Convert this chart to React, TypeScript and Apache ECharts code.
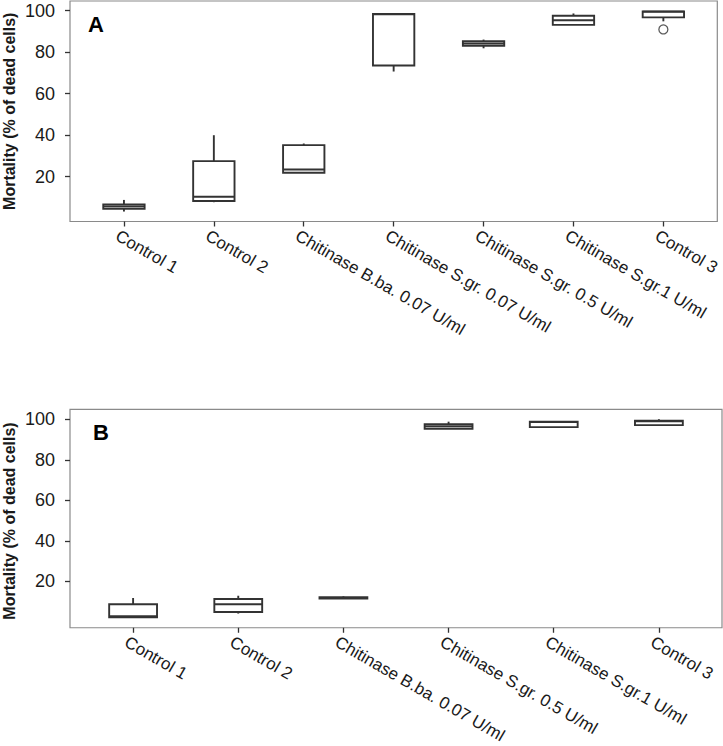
import React, { useEffect, useRef } from "react";
import * as echarts from "echarts";

// Panel A
const categoriesA = [
  "Control 1",
  "Control 2",
  "Chitinase B.ba. 0.07 U/ml",
  "Chitinase S.gr. 0.07 U/ml",
  "Chitinase S.gr. 0.5 U/ml",
  "Chitinase S.gr.1 U/ml",
  "Control 3",
];
// [whiskerLow, q1, median, q3, whiskerHigh]
const boxesA = [
  [3.2, 4.5, 5.6, 6.6, 8.8],
  [7.7, 8.3, 10.3, 27.5, 40.0],
  [21.9, 21.9, 23.5, 35.2, 36.0],
  [70.7, 73.6, 98.3, 98.4, 98.7],
  [81.9, 83.1, 84.2, 85.3, 86.1],
  [93.2, 93.2, 95.4, 97.6, 98.7],
  [94.9, 96.8, 99.5, 99.7, 99.9],
];
const outliersA = [[7, 91.0]];

// Panel B
const categoriesB = [
  "Control 1",
  "Control 2",
  "Chitinase B.ba. 0.07 U/ml",
  "Chitinase S.gr. 0.5 U/ml",
  "Chitinase S.gr.1 U/ml",
  "Control 3",
];
const boxesB = [
  [2.2, 2.2, 2.8, 8.7, 11.8],
  [4.1, 4.9, 8.7, 11.3, 12.9],
  [11.4, 11.5, 11.8, 12.2, 12.6],
  [95.3, 95.3, 96.5, 97.6, 98.8],
  [95.8, 96.1, 98.6, 98.8, 98.9],
  [97.1, 97.1, 99.0, 99.3, 100.0],
];

const yTicks = [20, 40, 60, 80, 100];
const yTitle = "Mortality (% of dead cells)";

const FONT = "'Liberation Sans', Arial, Helvetica, sans-serif";
const STROKE = "#333333";
const LW = 1.9;
const GRID_W = 652;
const GRID_A = { top: 1, height: 220.5 };
const GRID_B = { top: 409.3, height: 223.4 };

function boxRender(boxFrac: number) {
  return (params: any, api: any) => {
    const x = api.value(0);
    const pLow = api.coord([x, api.value(1)]);
    const pQ1 = api.coord([x, api.value(2)]);
    const pMed = api.coord([x, api.value(3)]);
    const pQ3 = api.coord([x, api.value(4)]);
    const pHigh = api.coord([x, api.value(5)]);
    const w = api.size([boxFrac, 0])[0];
    const cx = pQ1[0];
    const ls = { stroke: STROKE, lineWidth: LW, fill: null };
    return {
      type: "group",
      children: [
        { type: "line", shape: { x1: cx, y1: pHigh[1], x2: cx, y2: pQ3[1] }, style: ls },
        { type: "line", shape: { x1: cx, y1: pQ1[1], x2: cx, y2: pLow[1] }, style: ls },
        {
          type: "rect",
          shape: { x: cx - w / 2, y: pQ3[1], width: w, height: pQ1[1] - pQ3[1] },
          style: { fill: "#ffffff", stroke: STROKE, lineWidth: LW },
        },
        { type: "line", shape: { x1: cx - w / 2, y1: pMed[1], x2: cx + w / 2, y2: pMed[1] }, style: ls },
      ],
    };
  };
}

function xAxis(idx: number, cats: string[]) {
  const vals = cats.map((_, i) => i + 1);
  const pxPerUnit = GRID_W / (cats.length + 0.2);
  const shift = 7 / pxPerUnit;
  return {
    type: "value",
    gridIndex: idx,
    min: 0.4,
    max: cats.length + 0.6,
    axisLine: { show: false, onZero: false },
    splitLine: { show: false },
    axisTick: { show: true, customValues: vals, length: 5, lineStyle: { color: STROKE, width: 1.3 } },
    axisLabel: {
      show: true,
      customValues: vals.map((v) => v - shift),
      formatter: (v: number) => cats[Math.round(v) - 1] ?? "",
      rotate: -30,
      margin: 13,
      fontSize: 17,
      fontFamily: FONT,
      color: "#1a1a1a",
    },
  };
}

function yAxis(idx: number, min: number, max: number) {
  return {
    type: "value",
    gridIndex: idx,
    min,
    max,
    axisLine: { show: false, onZero: false },
    splitLine: { show: false },
    axisTick: { show: true, customValues: yTicks, length: 5, lineStyle: { color: STROKE, width: 1.3 } },
    axisLabel: {
      show: true,
      customValues: yTicks,
      margin: 15,
      fontSize: 18,
      fontFamily: FONT,
      color: "#1a1a1a",
    },
  };
}

function yTitleText(centerY: number) {
  return {
    type: "text",
    x: 9.5,
    y: centerY,
    rotation: Math.PI / 2,
    style: {
      text: yTitle,
      fontSize: 16,
      fontWeight: "bold",
      fontFamily: FONT,
      fill: "#1a1a1a",
      align: "center",
      verticalAlign: "middle",
    },
  };
}

export default function App() {
  const ref = useRef<HTMLDivElement>(null);
  useEffect(() => {
    if (!ref.current) return;
    const chart = echarts.init(ref.current, null, { renderer: "svg" });
    const dataA = boxesA.map((b, i) => [i + 1, ...b]);
    const dataB = boxesB.map((b, i) => [i + 1, ...b]);
    chart.setOption({
      animation: false,
      backgroundColor: "#ffffff",
      grid: [
        { left: 70, top: GRID_A.top, width: GRID_W, height: GRID_A.height, show: true, borderColor: "#8a8a8a", borderWidth: 1.2, backgroundColor: "#ffffff" },
        { left: 70, top: GRID_B.top, width: GRID_W, height: GRID_B.height, show: true, borderColor: "#8a8a8a", borderWidth: 1.2, backgroundColor: "#ffffff" },
      ],
      xAxis: [xAxis(0, categoriesA), xAxis(1, categoriesB)],
      yAxis: [yAxis(0, -1.6, 104.7), yAxis(1, -2.9, 104.9)],
      graphic: [
        { type: "text", left: 88, top: 13, style: { text: "A", fontSize: 22, fontWeight: "bold", fontFamily: FONT, fill: "#000" } },
        { type: "text", left: 93, top: 421, style: { text: "B", fontSize: 22, fontWeight: "bold", fontFamily: FONT, fill: "#000" } },
        yTitleText(GRID_A.top + GRID_A.height / 2),
        yTitleText(GRID_B.top + GRID_B.height / 2),
      ],
      series: [
        {
          type: "custom",
          xAxisIndex: 0,
          yAxisIndex: 0,
          renderItem: boxRender(0.46),
          encode: { x: 0, y: [1, 2, 3, 4, 5] },
          data: dataA,
          clip: false,
        },
        {
          type: "scatter",
          xAxisIndex: 0,
          yAxisIndex: 0,
          symbol: "circle",
          symbolSize: 9,
          itemStyle: { color: "#ffffff", borderColor: STROKE, borderWidth: 1.3 },
          data: outliersA,
          z: 5,
        },
        {
          type: "custom",
          xAxisIndex: 1,
          yAxisIndex: 1,
          renderItem: boxRender(0.455),
          encode: { x: 0, y: [1, 2, 3, 4, 5] },
          data: dataB,
          clip: false,
        },
      ],
    });
    return () => chart.dispose();
  }, []);
  return (
    <div
      ref={ref}
      style={{ position: "absolute", left: 0, top: 0, width: 723, height: 746, background: "#fff" }}
    />
  );
}
